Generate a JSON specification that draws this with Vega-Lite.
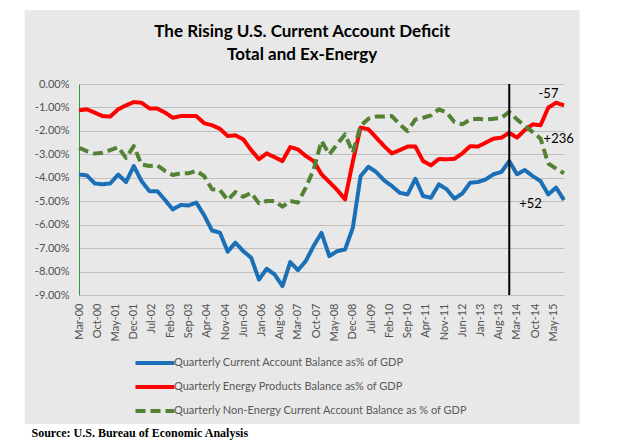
{
  "$schema": "https://vega.github.io/schema/vega-lite/v6.json",
  "width": 485,
  "height": 211,
  "padding": {"left": 24, "top": 9, "right": 38, "bottom": 2},
  "background": "white",
  "title": {
    "text": ["The Rising U.S. Current Account Deficit", "Total and Ex-Energy"],
    "font": "Lato",
    "fontSize": 17,
    "fontWeight": "bold",
    "color": "#000000",
    "anchor": "middle",
    "frame": "bounds",
    "lineHeight": 23,
    "offset": -54
  },
  "datasets": {
    "names": [
      {"key": "ca", "series": "Quarterly Current Account Balance as% of GDP"},
      {"key": "energy", "series": "Quarterly Energy Products Balance as% of GDP"},
      {"key": "nonenergy", "series": "Quarterly Non-Energy Current Account Balance as % of GDP"}
    ],
    "cab": [
      {"date": "2000-03-01", "ca": -3.86, "energy": -1.12, "nonenergy": -2.72},
      {"date": "2000-06-01", "ca": -3.90, "energy": -1.08, "nonenergy": -2.86},
      {"date": "2000-09-01", "ca": -4.24, "energy": -1.22, "nonenergy": -2.97},
      {"date": "2000-12-01", "ca": -4.28, "energy": -1.37, "nonenergy": -2.93},
      {"date": "2001-03-01", "ca": -4.24, "energy": -1.39, "nonenergy": -2.82},
      {"date": "2001-06-01", "ca": -3.86, "energy": -1.08, "nonenergy": -2.69},
      {"date": "2001-09-01", "ca": -4.18, "energy": -0.91, "nonenergy": -3.15},
      {"date": "2001-12-01", "ca": -3.50, "energy": -0.77, "nonenergy": -2.65},
      {"date": "2002-03-01", "ca": -4.14, "energy": -0.80, "nonenergy": -3.43},
      {"date": "2002-06-01", "ca": -4.57, "energy": -1.04, "nonenergy": -3.50},
      {"date": "2002-09-01", "ca": -4.57, "energy": -1.05, "nonenergy": -3.47},
      {"date": "2002-12-01", "ca": -4.95, "energy": -1.22, "nonenergy": -3.71},
      {"date": "2003-03-01", "ca": -5.35, "energy": -1.44, "nonenergy": -3.88},
      {"date": "2003-06-01", "ca": -5.16, "energy": -1.37, "nonenergy": -3.81},
      {"date": "2003-09-01", "ca": -5.18, "energy": -1.37, "nonenergy": -3.81},
      {"date": "2003-12-01", "ca": -5.06, "energy": -1.37, "nonenergy": -3.70},
      {"date": "2004-03-01", "ca": -5.60, "energy": -1.67, "nonenergy": -3.93},
      {"date": "2004-06-01", "ca": -6.25, "energy": -1.76, "nonenergy": -4.49},
      {"date": "2004-09-01", "ca": -6.34, "energy": -1.91, "nonenergy": -4.52},
      {"date": "2004-12-01", "ca": -7.15, "energy": -2.22, "nonenergy": -4.95},
      {"date": "2005-03-01", "ca": -6.77, "energy": -2.19, "nonenergy": -4.61},
      {"date": "2005-06-01", "ca": -7.13, "energy": -2.36, "nonenergy": -4.81},
      {"date": "2005-09-01", "ca": -7.41, "energy": -2.82, "nonenergy": -4.64},
      {"date": "2005-12-01", "ca": -8.34, "energy": -3.21, "nonenergy": -5.09},
      {"date": "2006-03-01", "ca": -7.88, "energy": -2.96, "nonenergy": -4.99},
      {"date": "2006-06-01", "ca": -8.12, "energy": -3.12, "nonenergy": -4.99},
      {"date": "2006-09-01", "ca": -8.62, "energy": -3.29, "nonenergy": -5.23},
      {"date": "2006-12-01", "ca": -7.60, "energy": -2.69, "nonenergy": -4.99},
      {"date": "2007-03-01", "ca": -7.94, "energy": -2.79, "nonenergy": -5.06},
      {"date": "2007-06-01", "ca": -7.55, "energy": -3.07, "nonenergy": -4.42},
      {"date": "2007-09-01", "ca": -6.90, "energy": -3.29, "nonenergy": -3.64},
      {"date": "2007-12-01", "ca": -6.35, "energy": -3.85, "nonenergy": -2.43},
      {"date": "2008-03-01", "ca": -7.34, "energy": -4.18, "nonenergy": -3.00},
      {"date": "2008-06-01", "ca": -7.13, "energy": -4.52, "nonenergy": -2.57},
      {"date": "2008-09-01", "ca": -7.06, "energy": -4.92, "nonenergy": -2.15},
      {"date": "2008-12-01", "ca": -6.13, "energy": -3.30, "nonenergy": -2.93},
      {"date": "2009-03-01", "ca": -3.93, "energy": -1.86, "nonenergy": -1.79},
      {"date": "2009-06-01", "ca": -3.53, "energy": -1.93, "nonenergy": -1.48},
      {"date": "2009-09-01", "ca": -3.76, "energy": -2.29, "nonenergy": -1.39},
      {"date": "2009-12-01", "ca": -4.11, "energy": -2.65, "nonenergy": -1.39},
      {"date": "2010-03-01", "ca": -4.35, "energy": -2.96, "nonenergy": -1.37},
      {"date": "2010-06-01", "ca": -4.64, "energy": -2.82, "nonenergy": -1.72},
      {"date": "2010-09-01", "ca": -4.71, "energy": -2.67, "nonenergy": -2.01},
      {"date": "2010-12-01", "ca": -4.04, "energy": -2.67, "nonenergy": -1.51},
      {"date": "2011-03-01", "ca": -4.78, "energy": -3.29, "nonenergy": -1.44},
      {"date": "2011-06-01", "ca": -4.85, "energy": -3.47, "nonenergy": -1.34},
      {"date": "2011-09-01", "ca": -4.28, "energy": -3.20, "nonenergy": -1.08},
      {"date": "2011-12-01", "ca": -4.49, "energy": -3.21, "nonenergy": -1.22},
      {"date": "2012-03-01", "ca": -4.89, "energy": -3.19, "nonenergy": -1.62},
      {"date": "2012-06-01", "ca": -4.67, "energy": -2.96, "nonenergy": -1.72},
      {"date": "2012-09-01", "ca": -4.21, "energy": -2.65, "nonenergy": -1.51},
      {"date": "2012-12-01", "ca": -4.18, "energy": -2.67, "nonenergy": -1.48},
      {"date": "2013-03-01", "ca": -4.07, "energy": -2.50, "nonenergy": -1.51},
      {"date": "2013-06-01", "ca": -3.85, "energy": -2.33, "nonenergy": -1.48},
      {"date": "2013-09-01", "ca": -3.75, "energy": -2.29, "nonenergy": -1.44},
      {"date": "2013-12-01", "ca": -3.29, "energy": -2.08, "nonenergy": -1.19},
      {"date": "2014-03-01", "ca": -3.85, "energy": -2.29, "nonenergy": -1.51},
      {"date": "2014-06-01", "ca": -3.67, "energy": -1.96, "nonenergy": -1.79},
      {"date": "2014-09-01", "ca": -3.93, "energy": -1.72, "nonenergy": -2.05},
      {"date": "2014-12-01", "ca": -4.14, "energy": -1.76, "nonenergy": -2.33},
      {"date": "2015-03-01", "ca": -4.71, "energy": -1.01, "nonenergy": -3.39},
      {"date": "2015-06-01", "ca": -4.42, "energy": -0.80, "nonenergy": -3.61},
      {"date": "2015-09-01", "ca": -4.95, "energy": -0.91, "nonenergy": -3.81}
    ],
    "marker": [{"date": "2013-12-01"}],
    "notes": [
      {"date": "2015-03-04", "value": -0.41, "label": "-57"},
      {"date": "2015-07-01", "value": -2.35, "label": "+236"},
      {"date": "2014-08-07", "value": -5.12, "label": "+52"}
    ]
  },
  "config": {
    "view": {"stroke": null},
    "axis": {
      "labelFont": "Lato",
      "labelFontSize": 11,
      "labelColor": "#5a5a5a",
      "labelOverlap": false,
      "ticks": false,
      "gridColor": "#d2d2d2",
      "gridWidth": 1
    },
    "legend": {
      "orient": "none",
      "legendX": 69,
      "legendY": 272,
      "direction": "vertical",
      "symbolType": "M-4,0H4",
      "symbolSize": 95,
      "symbolStrokeWidth": 4,
      "labelFont": "Lato",
      "labelFontSize": 11,
      "labelColor": "#595959",
      "rowPadding": 8,
      "labelOffset": 12,
      "padding": 0,
      "labelLimit": 400
    }
  },
  "layer": [
    {
      "data": {"values": [{}]},
      "mark": {"type": "rect", "fill": "#000000", "fillOpacity": 0.09},
      "encoding": {
        "x": {"datum": {"year": 1998, "month": 6, "date": 6, "utc": true}, "type": "temporal"},
        "x2": {"datum": {"year": 2016, "month": 3, "date": 1, "utc": true}},
        "y": {"datum": 3.16, "type": "quantitative"},
        "y2": {"datum": -14.5}
      }
    },
    {
      "data": {"name": "cab"},
      "transform": [
        {"fold": ["ca", "energy", "nonenergy"], "as": ["key", "value"]},
        {"lookup": "key", "from": {"data": {"name": "names"}, "key": "key", "fields": ["series"]}}
      ],
      "mark": {"type": "line", "strokeWidth": 4, "strokeJoin": "round"},
      "encoding": {
        "x": {
          "field": "date",
          "type": "temporal",
          "scale": {
            "type": "utc",
            "domain": [
              {"year": 2000, "month": 3, "date": 1, "utc": true},
              {"year": 2015, "month": 9, "date": 1, "utc": true}
            ]
          },
          "axis": {
            "title": "Source: U.S. Bureau of Economic Analysis",
            "titleFont": "Liberation Serif",
            "titleFontWeight": "bold",
            "titleFontSize": 12,
            "titleColor": "#000000",
            "titleAnchor": "start",
            "titleAlign": "left",
            "titleBaseline": "middle",
            "titleX": -48,
            "titleY": 137,
            "domain": false,
            "grid": false,
            "format": "%b-%y",
            "labelAngle": -90,
            "labelPadding": 8,
            "labelOverlap": false,
            "tickCount": 40,
            "values": [
              {"year": 2000, "month": 3, "date": 1, "utc": true},
              {"year": 2000, "month": 10, "date": 1, "utc": true},
              {"year": 2001, "month": 5, "date": 1, "utc": true},
              {"year": 2001, "month": 12, "date": 1, "utc": true},
              {"year": 2002, "month": 7, "date": 1, "utc": true},
              {"year": 2003, "month": 2, "date": 1, "utc": true},
              {"year": 2003, "month": 9, "date": 1, "utc": true},
              {"year": 2004, "month": 4, "date": 1, "utc": true},
              {"year": 2004, "month": 11, "date": 1, "utc": true},
              {"year": 2005, "month": 6, "date": 1, "utc": true},
              {"year": 2006, "month": 1, "date": 1, "utc": true},
              {"year": 2006, "month": 8, "date": 1, "utc": true},
              {"year": 2007, "month": 3, "date": 1, "utc": true},
              {"year": 2007, "month": 10, "date": 1, "utc": true},
              {"year": 2008, "month": 5, "date": 1, "utc": true},
              {"year": 2008, "month": 12, "date": 1, "utc": true},
              {"year": 2009, "month": 7, "date": 1, "utc": true},
              {"year": 2010, "month": 2, "date": 1, "utc": true},
              {"year": 2010, "month": 9, "date": 1, "utc": true},
              {"year": 2011, "month": 4, "date": 1, "utc": true},
              {"year": 2011, "month": 11, "date": 1, "utc": true},
              {"year": 2012, "month": 6, "date": 1, "utc": true},
              {"year": 2013, "month": 1, "date": 1, "utc": true},
              {"year": 2013, "month": 8, "date": 1, "utc": true},
              {"year": 2014, "month": 3, "date": 1, "utc": true},
              {"year": 2014, "month": 10, "date": 1, "utc": true},
              {"year": 2015, "month": 5, "date": 1, "utc": true}
            ]
          }
        },
        "y": {
          "field": "value",
          "type": "quantitative",
          "scale": {"domain": [-9, 0], "nice": false, "zero": false},
          "axis": {
            "title": null,
            "values": [0, -1, -2, -3, -4, -5, -6, -7, -8, -9],
            "tickCount": 20,
            "labelExpr": "(datum.value < 0 ? '-' : '') + format(abs(datum.value), '.2f') + '%'",
            "labelPadding": 10,
            "labelOverlap": false,
            "domain": true,
            "domainColor": "#2eaa4a",
            "domainWidth": 1,
            "grid": true
          }
        },
        "color": {
          "field": "series",
          "type": "nominal",
          "title": null,
          "scale": {
            "domain": [
              "Quarterly Current Account Balance as% of GDP",
              "Quarterly Energy Products Balance as% of GDP",
              "Quarterly Non-Energy Current Account Balance as % of GDP"
            ],
            "range": ["#1a6fb7", "#ff0000", "#548235"]
          }
        },
        "strokeDash": {
          "field": "series",
          "type": "nominal",
          "title": null,
          "scale": {
            "domain": [
              "Quarterly Current Account Balance as% of GDP",
              "Quarterly Energy Products Balance as% of GDP",
              "Quarterly Non-Energy Current Account Balance as % of GDP"
            ],
            "range": [[1, 0], [1, 0], [10, 5]]
          }
        }
      }
    },
    {
      "data": {"name": "marker"},
      "mark": {"type": "rule", "color": "#000000", "strokeWidth": 2},
      "encoding": {
        "x": {"field": "date", "type": "temporal"}
      }
    },
    {
      "data": {"name": "notes"},
      "mark": {"type": "text", "font": "Lato", "fontSize": 13, "color": "#000000", "align": "center", "baseline": "middle"},
      "encoding": {
        "x": {"field": "date", "type": "temporal"},
        "y": {"field": "value", "type": "quantitative"},
        "text": {"field": "label"}
      }
    }
  ]
}
